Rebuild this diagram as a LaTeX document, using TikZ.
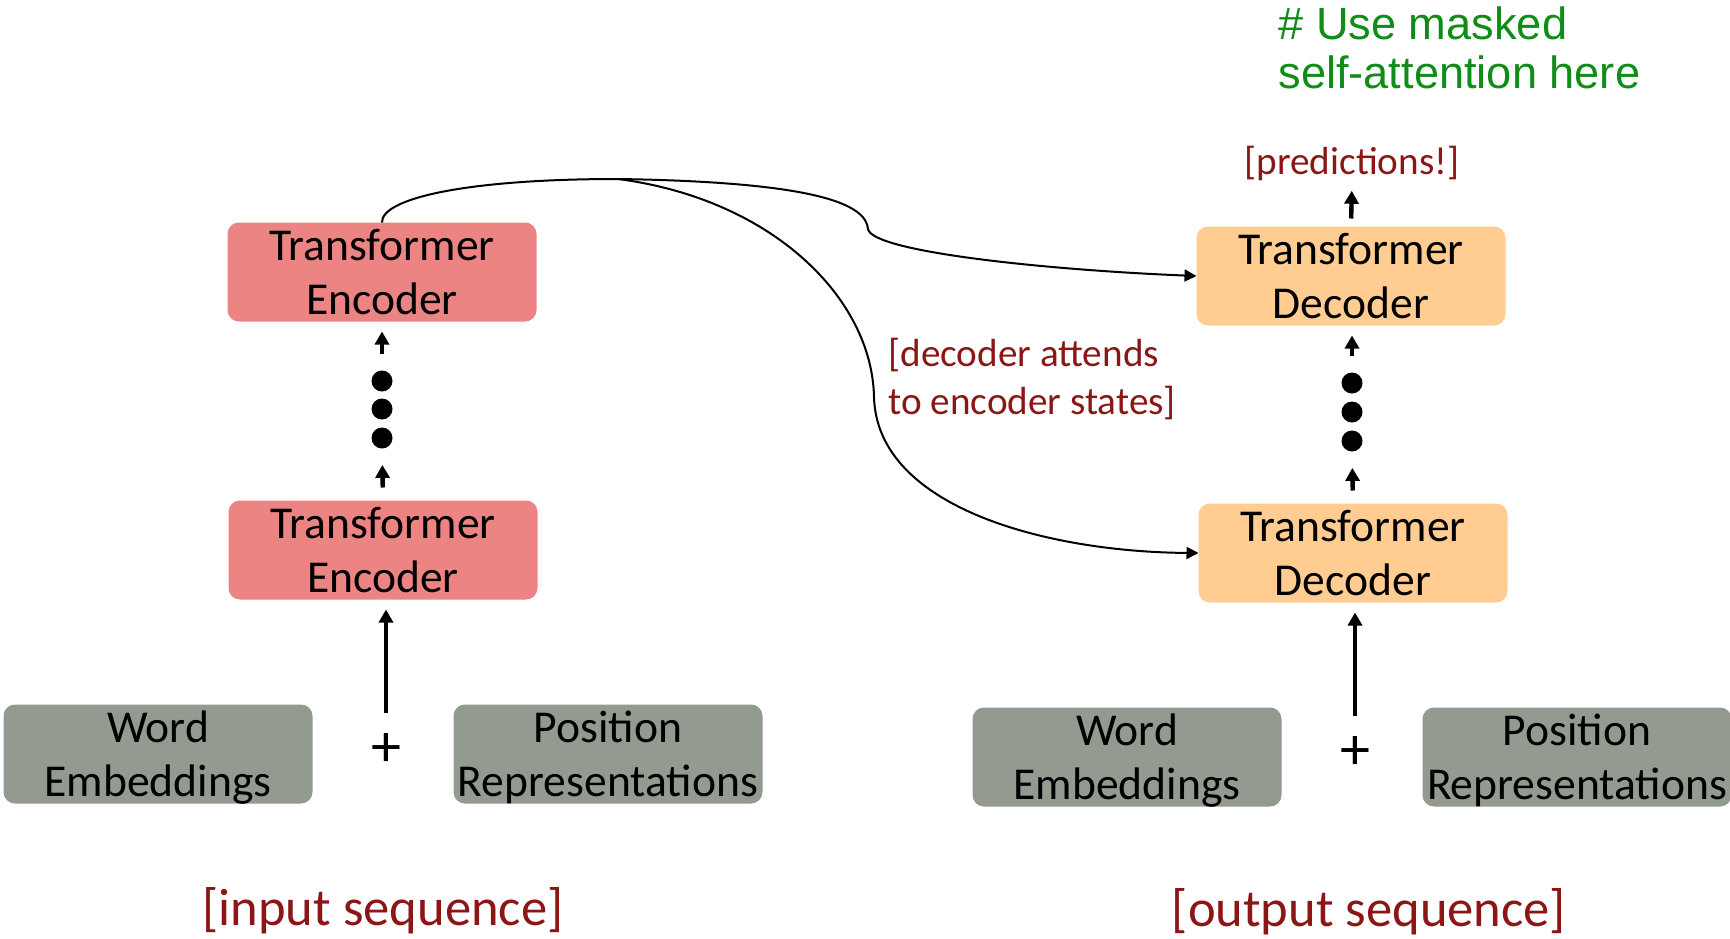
\documentclass[tikz,border=0pt]{standalone}
\usepackage{fontspec}
\setmainfont{Carlito}
\newfontfamily\arialf{Liberation Sans}
\usetikzlibrary{arrows.meta}
\definecolor{encred}{RGB}{236,132,132}
\definecolor{decorange}{RGB}{255,204,145}
\definecolor{embgray}{RGB}{147,154,143}
\definecolor{labred}{RGB}{140,22,22}
\definecolor{notegreen}{RGB}{16,140,24}
\begin{document}
\begin{tikzpicture}[x=0.5pt,y=-0.5pt,
  blockbox/.style={minimum width=153pt, minimum height=48pt, rounded corners=5pt, align=center,
    font=\fontsize{22.8}{27}\selectfont, inner sep=0pt, line width=1.5pt, text depth=0pt},
  encbox/.style={blockbox, fill=encred, draw=encred},
  decbox/.style={blockbox, fill=decorange, draw=decorange},
  embbox/.style={blockbox, fill=embgray, draw=embgray},
  dotnode/.style={circle, fill=black, minimum size=10.5pt, inner sep=0pt},
  plusnode/.style={inner sep=0pt, font=\fontsize{30}{30}\selectfont},
  smallarr/.style={-{Triangle[length=6.5pt,width=7pt]}, line width=2.2pt},
  bigarr/.style={-{Triangle[length=6.5pt,width=7pt]}, line width=1.8pt},
  curvearr/.style={-{Triangle[length=6pt,width=6pt]}, line width=1pt},
  redlabel/.style={text=labred, inner sep=0pt, font=\fontsize{19.6}{24}\selectfont},
  seqlabel/.style={text=labred, inner sep=0pt, font=\fontsize{26.3}{32}\selectfont},
  notelabel/.style={text=notegreen, inner sep=0pt, align=left, font=\arialf\fontsize{22.6}{24.5}\selectfont}
]
\useasboundingbox (0,0) rectangle (1730,938);

% encoder side
\node[encbox] (enc2) at (382,272) {Transformer\\Encoder};
\node[encbox] (enc1) at (383,550) {Transformer\\Encoder};
\node[embbox] (we1) at (158,754) {Word\\Embeddings};
\node[embbox] (pr1) at (608,754) {Position\\Representations};
\node[plusnode] (plus1) at (386,750) {+};
\node[dotnode] (ed1) at (382,381) {};
\node[dotnode] (ed2) at (382,409) {};
\node[dotnode] (ed3) at (382,438) {};
\node[seqlabel] (inseq) at (383,911) {[input sequence]};

% decoder side
\node[decbox] (dec2) at (1351,276) {Transformer\\Decoder};
\node[decbox] (dec1) at (1353,553) {Transformer\\Decoder};
\node[embbox] (we2) at (1127,757) {Word\\Embeddings};
\node[embbox] (pr2) at (1577,757) {Position\\Representations};
\node[plusnode] (plus2) at (1355,753) {+};
\node[dotnode] (dd1) at (1352,383) {};
\node[dotnode] (dd2) at (1352,412) {};
\node[dotnode] (dd3) at (1352,441) {};
\node[seqlabel] (outseq) at (1369,912) {[output sequence]};
\node[redlabel] (pred) at (1352,163) {[predictions!]};
\node[redlabel, anchor=base west, align=left] (attn) at (888,414) {[decoder attends\\to encoder states]};
\node[notelabel, anchor=base west] (note) at (1278,88) {\# Use masked\\self-attention here};

% vertical arrows
\draw[bigarr, shorten <=10pt, shorten >=5pt] (plus1.north) -- (plus1.north |- enc1.south);
\draw[smallarr, shorten <=6.5pt, shorten >=8pt] (enc1.north) -- (ed3.south);
\draw[smallarr, shorten <=8pt, shorten >=5pt] (ed1.north) -- (ed1.north |- enc2.south);

\draw[bigarr, shorten <=10pt, shorten >=5pt] (plus2.north) -- (plus2.north |- dec1.south);
\draw[smallarr, shorten <=6.5pt, shorten >=8pt] (dec1.north) -- (dd3.south);
\draw[smallarr, shorten <=8pt, shorten >=5pt] (dd1.north) -- (dd1.north |- dec2.south);
\draw[smallarr, shorten <=4pt, shorten >=5pt] (dec2.north) -- (pred.south);

% cross attention curves
\coordinate (split) at (618,179);
\coordinate (bendA) at (868,229);
\coordinate (bendB) at (874,397);
\draw[line width=1pt] (enc2.north) .. controls (381,199) and (463,179) .. (split);
\draw[curvearr] (split) .. controls (816,182) and (866,204) .. (bendA)
  .. controls (872,252) and (1048,270) .. (dec2.west);
\draw[curvearr] (split) .. controls (772,199) and (872,298) .. (bendB)
  .. controls (877,508) and (1048,552) .. (dec1.west);
\end{tikzpicture}
\end{document}
